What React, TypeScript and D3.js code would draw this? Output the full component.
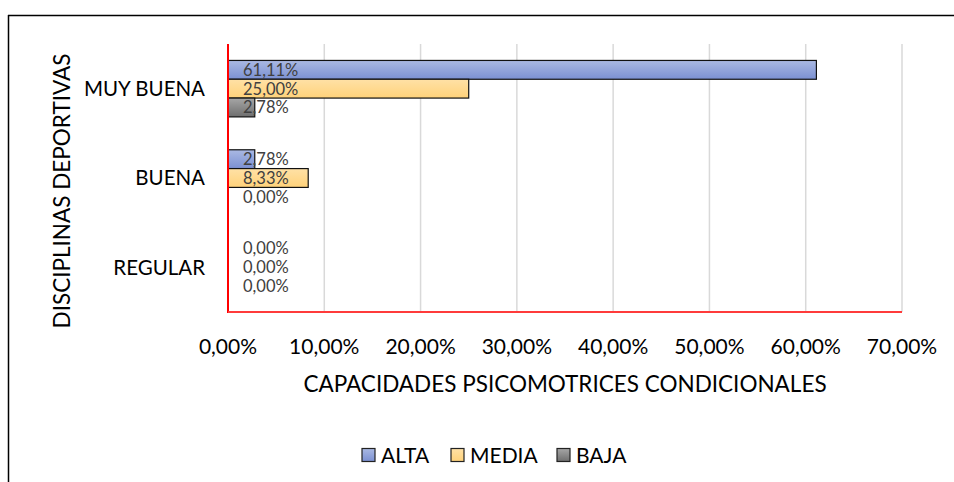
import React from "react";
import * as d3 from "d3";

const categories = ["MUY BUENA", "BUENA", "REGULAR"];
const seriesNames = ["ALTA", "MEDIA", "BAJA"];
const alta = [61.11, 2.78, 0];
const media = [25.0, 8.33, 0];
const baja = [2.78, 0, 0];
const xTicks = [0, 10, 20, 30, 40, 50, 60, 70];

const seriesValues = [alta, media, baja];
const gradients = [
  ["#aab9e3", "#7b90d2"],
  ["#ffe1a6", "#ffd27a"],
  ["#a6a6a6", "#6e6e6e"],
];
const FONT = "Lato, 'Open Sans', sans-serif";
const fmt = (v: number) => v.toFixed(2).replace(".", ",") + "%";

export default function App() {
  const W = 954, H = 482;
  const left = 228, right = 902, top = 44, bottom = 312;
  const x = d3.scaleLinear().domain([0, 70]).range([left, right]);
  const y = d3.scaleBand<string>().domain(categories).range([top, bottom]).paddingInner(0.368).paddingOuter(0.184);
  const inner = d3.scaleBand<string>().domain(seriesNames).range([0, y.bandwidth()]).padding(0);
  const legend = [
    { name: seriesNames[0], sx: 362 },
    { name: seriesNames[1], sx: 451 },
    { name: seriesNames[2], sx: 557 },
  ];

  return (
    <svg width={W} height={H} style={{ position: "absolute", left: 0, top: 0, background: "#fff" }} fontFamily={FONT}>
      <defs>
        {gradients.map((g, i) => (
          <linearGradient key={i} id={`g${i}`} x1="0" y1="0" x2="0" y2="1">
            <stop offset="0%" stopColor={g[0]} />
            <stop offset="100%" stopColor={g[1]} />
          </linearGradient>
        ))}
      </defs>
      <rect x={0} y={0} width={W} height={H} fill="#fff" />
      <line x1={8.5} y1={15} x2={8.5} y2={H} stroke="#000" strokeWidth={1.5} />
      <line x1={8} y1={15.5} x2={W} y2={15.5} stroke="#000" strokeWidth={1.5} />
      {xTicks.slice(1).map((t) => (
        <line key={t} x1={x(t)} x2={x(t)} y1={top} y2={bottom} stroke="#d9d9d9" strokeWidth={1.5} />
      ))}
      {categories.map((c, ci) => (
        <g key={c}>
          {seriesNames.map((s, si) => {
            const v = seriesValues[si][ci];
            const by = (y(c) as number) + (inner(s) as number);
            const bh = inner.bandwidth();
            return (
              <g key={s}>
                {v > 0 && (
                  <rect x={x(0)} y={by} width={x(v) - x(0)} height={bh} fill={`url(#g${si})`} stroke="#111" strokeWidth={1.2} />
                )}
                <text x={x(0) + 15} y={by + bh / 2} dy="0.36em" fontSize={16.5} fill="#404040">
                  {fmt(v)}
                </text>
              </g>
            );
          })}
          <text x={205} y={(y(c) as number) + y.bandwidth() / 2} dy="0.36em" textAnchor="end" fontSize={20.5} fill="#000">
            {c}
          </text>
        </g>
      ))}
      <line x1={x(0)} x2={x(0)} y1={top} y2={bottom + 1} stroke="#ff0000" strokeWidth={2} />
      <line x1={x(0)} x2={right} y1={bottom} y2={bottom} stroke="#ff3b3b" strokeWidth={2} />
      {xTicks.map((t) => (
        <text key={t} x={x(t)} y={346} dy="0.36em" textAnchor="middle" fontSize={21} fill="#000">
          {fmt(t)}
        </text>
      ))}
      <text x={565} y={384} dy="0.36em" textAnchor="middle" fontSize={22.5} fill="#000">
        CAPACIDADES PSICOMOTRICES CONDICIONALES
      </text>
      <text transform="translate(62,191) rotate(-90)" dy="0.36em" textAnchor="middle" fontSize={22.5} fill="#000">
        DISCIPLINAS DEPORTIVAS
      </text>
      {legend.map((l, i) => (
        <g key={l.name}>
          <rect x={l.sx} y={448.5} width={13} height={13} fill={`url(#g${i})`} stroke="#222" strokeWidth={1.2} />
          <text x={l.sx + 19} y={455} dy="0.36em" fontSize={21} fill="#000">
            {l.name}
          </text>
        </g>
      ))}
    </svg>
  );
}
